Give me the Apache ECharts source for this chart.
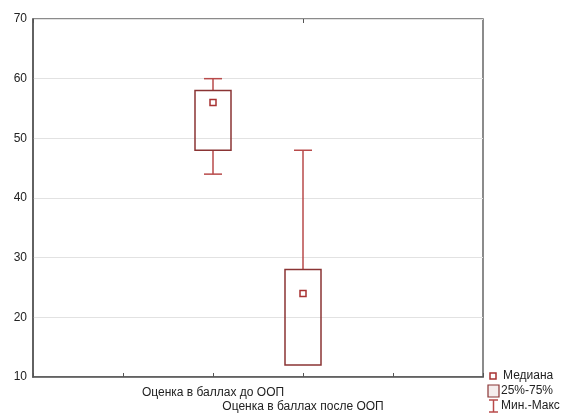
<!DOCTYPE html>
<html><head><meta charset="utf-8">
<script src="https://cdn.jsdelivr.net/npm/echarts@6/dist/echarts.min.js"></script>
<style>html,body{margin:0;padding:0;background:#fff}#c{width:562px;height:414px}</style>
</head><body><div id="c"></div>
<script>
// Categories (slots on x axis); boxes sit on slots 2 and 3
const slots = ['', '', 'Оценка в баллах до ООП', '\nОценка в баллах после ООП', '', ''];
const boxSlots = [2, 3];
const mins = [44, 12];
const q1s = [48, 12];
const medians = [56, 24];
const q3s = [58, 28];
const maxs = [60, 48];
const yTicks = {min: 10, max: 70, interval: 10};
const legendLabels = ['Медиана', '25%-75%', 'Мин.-Макс'];

const boxColor = '#8a3434';
const whiskerColor = '#b84a4a';
const medianColor = '#a83232';

const data = boxSlots.map((s, i) => [s, mins[i], q1s[i], medians[i], q3s[i], maxs[i]]);

function renderItem(params, api) {
  const x = api.value(0);
  const pMin = api.coord([x, api.value(1)]);
  const pQ1 = api.coord([x, api.value(2)]);
  const pMed = api.coord([x, api.value(3)]);
  const pQ3 = api.coord([x, api.value(4)]);
  const pMax = api.coord([x, api.value(5)]);
  const bw = 36, cw = 18, ms = 6;
  const cx = pQ1[0];
  const children = [];
  const ws = {stroke: whiskerColor, lineWidth: 1.5};
  if (pMax[1] < pQ3[1]) {
    children.push({type: 'line', shape: {x1: cx, y1: pQ3[1], x2: cx, y2: pMax[1]}, style: ws});
    children.push({type: 'line', shape: {x1: cx - cw/2, y1: pMax[1], x2: cx + cw/2, y2: pMax[1]}, style: ws});
  }
  if (pMin[1] > pQ1[1]) {
    children.push({type: 'line', shape: {x1: cx, y1: pQ1[1], x2: cx, y2: pMin[1]}, style: ws});
    children.push({type: 'line', shape: {x1: cx - cw/2, y1: pMin[1], x2: cx + cw/2, y2: pMin[1]}, style: ws});
  }
  children.push({type: 'rect', shape: {x: cx - bw/2, y: pQ3[1], width: bw, height: pQ1[1] - pQ3[1]},
    style: {fill: 'rgba(0,0,0,0)', stroke: boxColor, lineWidth: 1.5}});
  children.push({type: 'rect', shape: {x: cx - ms/2, y: pMed[1] - ms/2, width: ms, height: ms},
    style: {fill: '#fff', stroke: medianColor, lineWidth: 1.5}});
  return {type: 'group', children};
}

const chart = echarts.init(document.getElementById('c'));
const lx = 488, ly = 376;
chart.setOption({
  animation: false,
  backgroundColor: '#fff',
  grid: {left: 33, right: 79, top: 19, bottom: 37, show: true, borderColor: '#666', borderWidth: 1.5, backgroundColor: 'transparent'},
  xAxis: [{
    type: 'category', data: slots, boundaryGap: false,
    axisLine: {show: true, lineStyle: {color: '#555', width: 1.5}},
    axisTick: {show: true, inside: true, length: 4, lineStyle: {color: '#555'}},
    axisLabel: {interval: 0, margin: 9, color: '#222', fontFamily: 'Liberation Sans, Arial', fontSize: 12, lineHeight: 14},
    splitLine: {show: false}
  }, {
    type: 'category', data: slots, boundaryGap: false, position: 'top',
    axisLine: {show: false},
    axisTick: {show: true, inside: true, length: 4, lineStyle: {color: '#555'}},
    axisLabel: {show: false}
  }],
  yAxis: {
    type: 'value', min: yTicks.min, max: yTicks.max, interval: yTicks.interval,
    axisLine: {show: true, lineStyle: {color: '#555', width: 1.5}},
    axisTick: {show: false},
    axisLabel: {margin: 6, color: '#222', fontFamily: 'Liberation Sans, Arial', fontSize: 12},
    splitLine: {show: true, lineStyle: {color: '#e2e2e2', width: 1}}
  },
  series: [{type: 'custom', renderItem, data, encode: {x: 0, y: [1, 2, 3, 4, 5]}, clip: false}],
  graphic: [
    {type: 'rect', shape: {x: lx + 2, y: ly - 3, width: 6, height: 6}, style: {fill: '#fff', stroke: medianColor, lineWidth: 1.5}},
    {type: 'text', x: lx + 15, y: ly, style: {text: legendLabels[0], font: '12px Liberation Sans, Arial', fill: '#222', verticalAlign: 'middle'}},
    {type: 'rect', shape: {x: lx, y: ly + 9, width: 11, height: 12}, style: {fill: '#f5eded', stroke: boxColor, lineWidth: 1.2}},
    {type: 'text', x: lx + 13, y: ly + 15, style: {text: legendLabels[1], font: '12px Liberation Sans, Arial', fill: '#222', verticalAlign: 'middle'}},
    {type: 'line', shape: {x1: lx + 5.5, y1: ly + 24, x2: lx + 5.5, y2: ly + 36}, style: {stroke: whiskerColor, lineWidth: 1.5}},
    {type: 'line', shape: {x1: lx + 1, y1: ly + 24, x2: lx + 10, y2: ly + 24}, style: {stroke: whiskerColor, lineWidth: 1.5}},
    {type: 'line', shape: {x1: lx + 1, y1: ly + 36, x2: lx + 10, y2: ly + 36}, style: {stroke: whiskerColor, lineWidth: 1.5}},
    {type: 'text', x: lx + 13, y: ly + 30, style: {text: legendLabels[2], font: '12px Liberation Sans, Arial', fill: '#222', verticalAlign: 'middle'}}
  ]
});
</script></body></html>
